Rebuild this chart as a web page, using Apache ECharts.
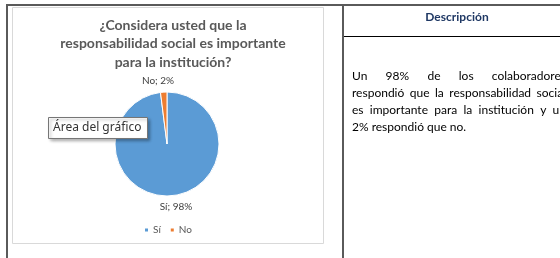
<!DOCTYPE html>
<html>
<head>
<meta charset="utf-8">
<script src="https://cdn.jsdelivr.net/npm/echarts@6/dist/echarts.min.js"></script>
<style>
  html, body { margin: 0; padding: 0; background: #fff; }
  #main { width: 560px; height: 258px; }
</style>
</head>
<body>
<div id="main"></div>
<script>
// datos del gráfico
const categories = ['Sí', 'No'];
const values = [98, 2];
const titleLines = ['¿Considera usted que la', 'responsabilidad social es importante', 'para la institución?'];
const headerText = 'Descripción';
const descLines = [
  'Un 98% de los colaboradores',
  'respondió que la responsabilidad social',
  'es importante para la institución y un',
  '2% respondió que no.'
];

const sliceColors = ['#5B9BD5', '#ED7D31'];
const FONT = 'Lato, "Noto Sans", sans-serif';

// texto justificado como en el documento
function justifyText(lines, x0, y0, width, lh, size) {
  const ctx = document.createElement('canvas').getContext('2d');
  ctx.font = size + 'px ' + FONT;
  const out = [];
  lines.forEach((line, i) => {
    const words = line.split(' ');
    const y = y0 + i * lh;
    const last = i === lines.length - 1;
    const widths = words.map(w => ctx.measureText(w).width);
    const total = widths.reduce((a, b) => a + b, 0);
    const space = ctx.measureText(' ').width;
    let gap = last ? space : Math.max(space, (width - total) / (words.length - 1));
    let x = x0;
    words.forEach((w, j) => {
      out.push({
        type: 'text', x: x, y: y, z: 10,
        style: { text: w, fill: '#000', font: size + 'px ' + FONT, textVerticalAlign: 'middle' }
      });
      x += widths[j] + gap;
    });
  });
  return out;
}

const chart = echarts.init(document.getElementById('main'), null, { renderer: 'canvas' });

const graphics = [
  // area del grafico
  { type: 'rect', z: 0, shape: { x: 12.5, y: 7.5, width: 311, height: 236 },
    style: { fill: '#fff', stroke: '#d9d9d9', lineWidth: 1 } },
  // bordes de la tabla
  { type: 'line', z: 5, shape: { x1: 6, y1: 5, x2: 560, y2: 5 }, style: { stroke: '#5a5a5a', lineWidth: 2 } },
  { type: 'line', z: 5, shape: { x1: 7, y1: 4, x2: 7, y2: 258 }, style: { stroke: '#5a5a5a', lineWidth: 2 } },
  { type: 'line', z: 5, shape: { x1: 343, y1: 4, x2: 343, y2: 258 }, style: { stroke: '#5a5a5a', lineWidth: 2 } },
  { type: 'line', z: 5, shape: { x1: 344, y1: 36.5, x2: 560, y2: 36.5 }, style: { stroke: '#000', lineWidth: 1 } },
  // encabezado
  { type: 'text', z: 10, x: 457, y: 17,
    style: { text: headerText, fill: '#1F3864', font: 'bold 12px ' + FONT, textAlign: 'center', textVerticalAlign: 'middle' } },
  // etiqueta emergente
  { type: 'rect', z: 20, shape: { x: 48.5, y: 117.5, width: 99, height: 21 },
    style: { fill: '#fff', stroke: '#767676', lineWidth: 1,
             shadowBlur: 3, shadowOffsetX: 2, shadowOffsetY: 2, shadowColor: 'rgba(0,0,0,0.3)' } },
  { type: 'text', z: 21, x: 53, y: 128,
    style: { text: 'Área del gráfico', fill: '#333', font: '12px "Noto Sans", sans-serif', textVerticalAlign: 'middle' } }
].concat(justifyText(descLines, 352, 76, 214, 17, 12));

const option = {
  animation: false,
  backgroundColor: '#fff',
  title: {
    text: titleLines.join('\n'),
    left: 168,
    top: 11,
    textAlign: 'center',
    textStyle: { color: '#595959', fontFamily: FONT, fontWeight: 'bold', fontSize: 14, lineHeight: 18.5 }
  },
  legend: {
    data: categories,
    left: 138,
    top: 220,
    icon: 'rect',
    itemWidth: 5,
    itemHeight: 5,
    itemGap: 8,
    selectedMode: false,
    textStyle: { color: '#595959', fontFamily: FONT, fontSize: 10, padding: [0, 0, 0, -1] }
  },
  color: sliceColors,
  graphic: graphics,
  series: [{
    type: 'pie',
    center: [167, 144],
    radius: 52,
    startAngle: 90,
    clockwise: true,
    z: 3,
    data: categories.map((c, i) => ({ name: c, value: values[i] })),
    itemStyle: { borderColor: '#fff', borderWidth: 1 },
    label: {
      position: 'outside',
      formatter: '{b}; {d}%',
      color: '#404040',
      fontFamily: FONT,
      fontSize: 10
    },
    labelLine: { show: false, length: 11, length2: 0 },
    labelLayout: function () { return { align: 'center' }; },
    emphasis: { disabled: true }
  }]
};

chart.setOption(option);
</script>
</body>
</html>
